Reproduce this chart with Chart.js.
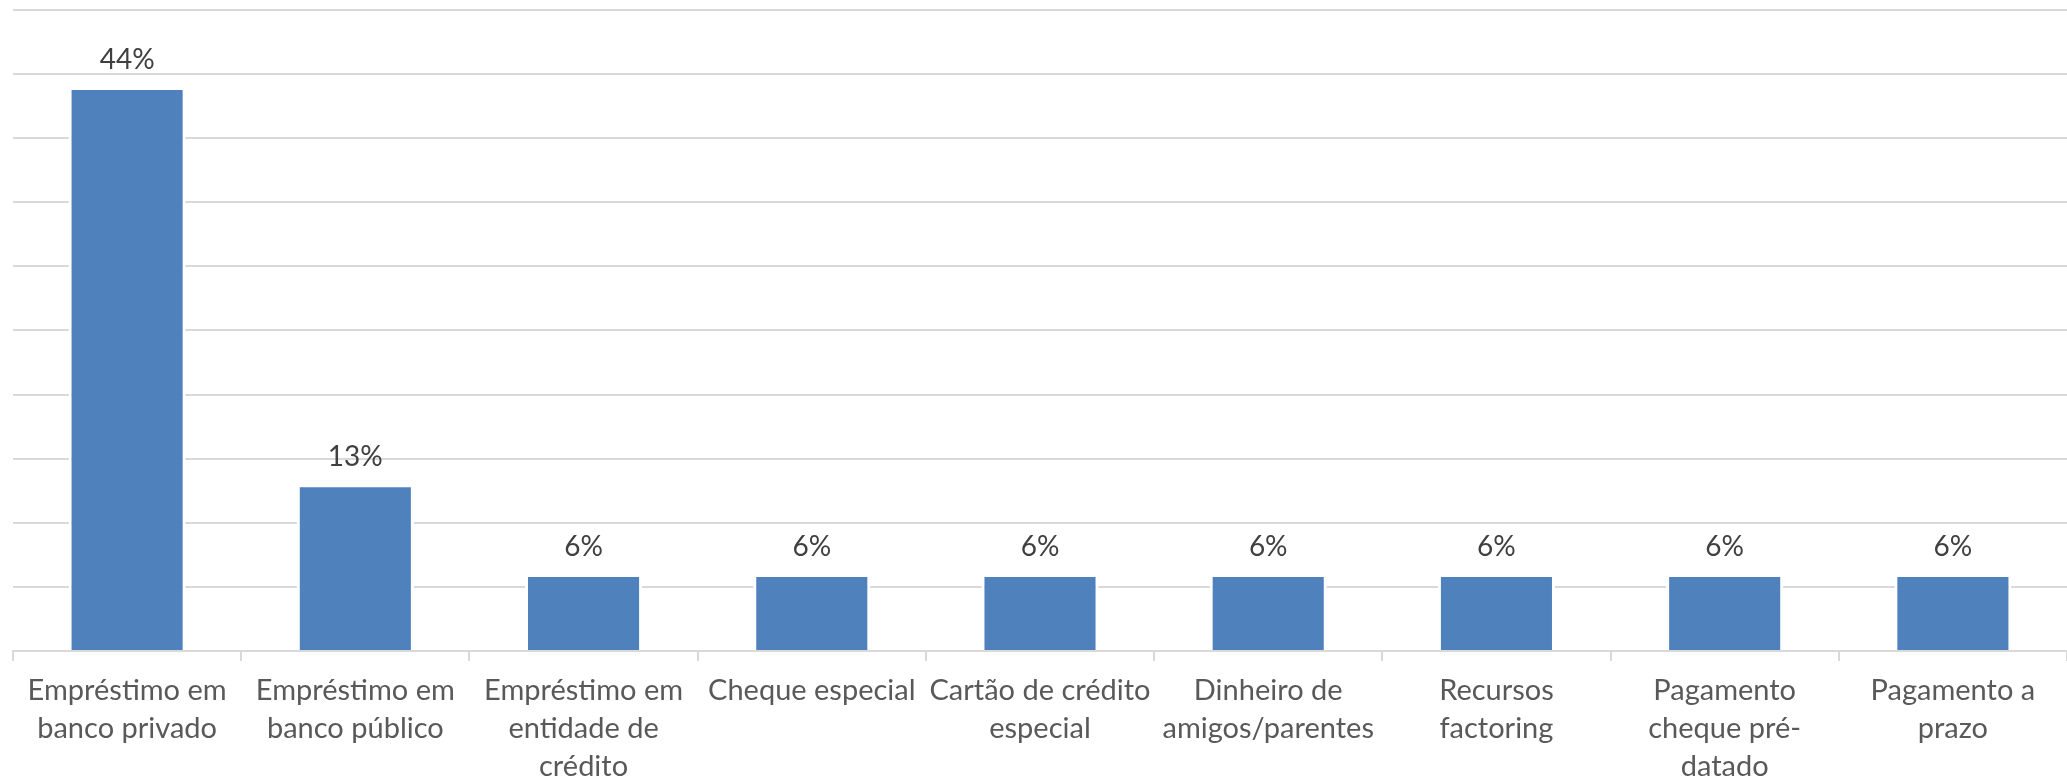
<!DOCTYPE html>
<html>
<head>
<meta charset="utf-8">
<script src="https://cdn.jsdelivr.net/npm/chart.js@4/dist/chart.umd.min.js"></script>
<style>
  html, body { margin: 0; padding: 0; background: #fff; overflow: hidden; }
  #wrap { width: 2067px; height: 783px; }
</style>
</head>
<body>
<div id="wrap"><canvas id="fontesChart"></canvas></div>
<script>
const categories = [
    ['Empréstimo em', 'banco privado'],
    ['Empréstimo em', 'banco público'],
    ['Empréstimo em', 'entidade de', 'crédito'],
    ['Cheque especial'],
    ['Cartão de crédito', 'especial'],
    ['Dinheiro de', 'amigos/parentes'],
    ['Recursos', 'factoring'],
    ['Pagamento', 'cheque pré-', 'datado'],
    ['Pagamento a', 'prazo']
];
const shares = [44, 13, 6, 6, 6, 6, 6, 6, 6];

const FONT = 'Lato, "Open Sans", sans-serif';

// value labels above each bar
const barLabels = {
    id: 'barLabels',
    afterDatasetsDraw(chart) {
        const ctx = chart.ctx;
        const meta = chart.getDatasetMeta(0);
        ctx.save();
        ctx.font = '28px ' + FONT;
        ctx.fillStyle = '#404040';
        ctx.textAlign = 'center';
        ctx.textBaseline = 'bottom';
        meta.data.forEach((bar, i) => {
            ctx.fillText(shares[i] + '%', bar.x, bar.y - 13);
        });
        ctx.restore();
    }
};

const ctx = document.getElementById('fontesChart').getContext('2d');
new Chart(ctx, {
    type: 'bar',
    data: {
        labels: categories,
        datasets: [{
            data: shares,
            backgroundColor: '#4f81bd',
            borderColor: '#ffffff',
            borderWidth: 3,
            borderSkipped: 'start',
            barPercentage: 1,
            categoryPercentage: 0.513
        }]
    },
    options: {
        responsive: true,
        maintainAspectRatio: false,
        animation: false,
        layout: { padding: { top: 10, left: 13, right: 0, bottom: -13 } },
        plugins: {
            legend: { display: false },
            tooltip: { enabled: false }
        },
        scales: {
            y: {
                min: 0,
                max: 50,
                ticks: { stepSize: 5, display: false },
                border: { display: false },
                grid: { color: '#d9d9d9', lineWidth: 2, drawTicks: false }
            },
            x: {
                border: { color: '#d9d9d9', width: 2 },
                grid: {
                    offset: true,
                    drawOnChartArea: false,
                    drawTicks: true,
                    tickLength: 10,
                    color: '#d9d9d9',
                    lineWidth: 2
                },
                ticks: {
                    color: '#595959',
                    font: { family: FONT, size: 29, lineHeight: 1.3 },
                    maxRotation: 0,
                    autoSkip: false,
                    padding: 11
                }
            }
        }
    },
    plugins: [barLabels]
});
</script>
</body>
</html>
